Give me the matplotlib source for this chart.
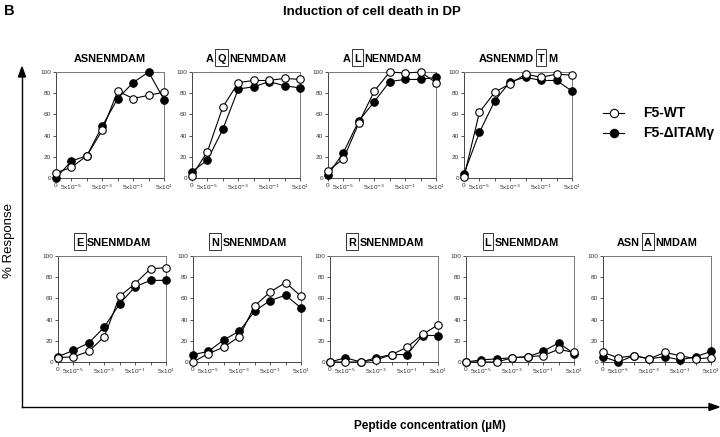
import matplotlib
matplotlib.use("Agg")
import matplotlib.pyplot as plt
from matplotlib.patches import Rectangle
from matplotlib.lines import Line2D

# ---------------- data ----------------
conc_labels = ["0", "5x10$^{-5}$", "", "5x10$^{-3}$", "", "5x10$^{-1}$", "", "5x10$^{1}$"]
conc_index = [0, 1, 2, 3, 4, 5, 6, 7]

# (prefix, boxed letter, suffix)
peptides = [
    ("ASNENMDAM", "", ""),
    ("A", "Q", "NENMDAM"),
    ("A", "L", "NENMDAM"),
    ("ASNENMD", "T", "M"),
    ("", "E", "SNENMDAM"),
    ("", "N", "SNENMDAM"),
    ("", "R", "SNENMDAM"),
    ("", "L", "SNENMDAM"),
    ("ASN", "A", "NMDAM"),
]

wt_values = [
    [5, 10, 21, 45, 82, 75, 78, 81],
    [2, 25, 67, 90, 92, 92, 94, 93],
    [7, 18, 52, 82, 100, 99, 100, 90],
    [1, 62, 81, 89, 98, 95, 98, 97],
    [4, 5, 10, 24, 62, 74, 88, 89],
    [0, 8, 14, 24, 53, 66, 75, 62],
    [0, 0, 0, 2, 7, 14, 26, 35],
    [0, 0, 0, 4, 5, 6, 12, 9],
    [9, 4, 6, 3, 9, 6, 3, 4],
]
ditam_values = [
    [0, 16, 21, 49, 75, 90, 100, 74],
    [6, 17, 46, 84, 86, 91, 87, 85],
    [3, 24, 54, 72, 91, 93, 93, 95],
    [4, 43, 73, 91, 95, 92, 92, 82],
    [5, 11, 18, 33, 55, 71, 77, 77],
    [7, 10, 21, 29, 48, 58, 63, 51],
    [0, 4, 0, 4, 7, 7, 25, 25],
    [0, 2, 3, 4, 5, 10, 18, 8],
    [5, 0, 6, 3, 5, 2, 5, 10],
]
series_names = ["F5-WT", "F5-\u0394ITAM\u03b3"]
yticks = [0, 20, 40, 60, 80, 100]

# ---------------- layout ----------------
W, H = 720, 437
fig = plt.figure(figsize=(W / 100, H / 100), dpi=100)
fig.patch.set_facecolor("white")

SANS = ["Liberation Sans", "DejaVu Sans"]

# pixel boxes (left, top)
boxes = [
    (56, 72), (192, 72), (328, 72), (464, 72),
    (58, 256), (193, 256), (330, 256), (466, 256), (603, 256),
]
AW, AH = 108, 106

axes = []
for (lx, ty) in boxes:
    ax = fig.add_axes([lx / W, (H - ty - AH) / H, AW / W, AH / H])
    axes.append(ax)

renderer = fig.canvas.get_renderer()


def text_width(s, **kw):
    t = fig.text(0, 0, s, **kw)
    w = t.get_window_extent(renderer).width
    t.remove()
    return w


def boxed_title(ax, pre, mid, post, ypix):
    props = dict(fontsize=7.8, fontweight="bold", family=SANS)
    gap = 3.5
    wp = text_width(pre, **props) if pre else 0
    wm = text_width(mid, **props) if mid else 0
    ws = text_width(post, **props) if post else 0
    total = wp + ws + (wm + 2 * gap if mid else 0)
    pos = ax.get_position()
    cx = (pos.x0 + pos.x1) / 2 * W
    x = cx - total / 2
    yb = (H - ypix) / H
    if pre:
        fig.text(x / W, yb, pre, ha="left", va="baseline", **props)
        x += wp
    if mid:
        x += gap
        fig.text(x / W, yb, mid, ha="left", va="baseline", **props)
        fig.patches.append(Rectangle(((x - 2) / W, (H - ypix - 4) / H), (wm + 4) / W, 17 / H,
                                     transform=fig.transFigure, fill=False, lw=0.7,
                                     ec="#333333", figure=fig))
        x += wm + gap
    if post:
        fig.text(x / W, yb, post, ha="left", va="baseline", **props)


for i, ax in enumerate(axes):
    ax.plot(conc_index, wt_values[i], "-o", color="black", lw=0.8, ms=5.4,
            mfc="white", mec="black", mew=0.8, clip_on=False, zorder=4)
    ax.plot(conc_index, ditam_values[i], "-o", color="black", lw=0.8, ms=5.4,
            mfc="black", mec="black", mew=0.8, clip_on=False, zorder=3)
    ax.set_xlim(0, 7)
    ax.set_ylim(0, 100)
    ax.set_xticks(conc_index)
    ax.set_xticklabels(conc_labels, fontsize=4.6, family=SANS, color="#333333")
    ax.set_yticks(yticks)
    ax.set_yticklabels([str(v) for v in yticks], fontsize=4.6, family=SANS, color="#333333")
    ax.tick_params(length=2.2, width=0.6, pad=1.2, color="#333333")
    for s in ax.spines.values():
        s.set_linewidth(0.7)
        s.set_color("#444444")
    ax.spines["top"].set_color("#777777")
    ax.spines["right"].set_color("#777777")
    pre, mid, post = peptides[i]
    ty = boxes[i][1]
    boxed_title(ax, pre, mid, post, ty - 10)

# legend
for j, (name, fc) in enumerate(zip(series_names, ["white", "black"])):
    yp = (H - (113 + 20 * j)) / H
    fig.add_artist(Line2D([603 / W, 624 / W], [yp, yp], color="black", lw=0.8,
                          transform=fig.transFigure))
    fig.add_artist(Line2D([613.5 / W], [yp], color="black", lw=0, marker="o", ms=6,
                          mfc=fc, mec="black", mew=0.8, transform=fig.transFigure))
    fig.text(643 / W, yp, name, ha="left", va="center", fontsize=10,
             fontweight="bold", family=SANS)

# big axes arrows
fig.add_artist(Line2D([22 / W, 22 / W], [(H - 407) / H, (H - 76) / H], color="black",
                      lw=1.0, transform=fig.transFigure))
fig.add_artist(Line2D([22 / W, 711 / W], [(H - 407) / H, (H - 407) / H], color="black",
                      lw=1.0, transform=fig.transFigure))
fig.patches.append(plt.Polygon([[18.5 / W, (H - 77) / H], [25.5 / W, (H - 77) / H],
                                [22 / W, (H - 67) / H]], closed=True, color="black",
                               transform=fig.transFigure, figure=fig))
fig.patches.append(plt.Polygon([[709 / W, (H - 403.5) / H], [709 / W, (H - 410.5) / H],
                                [719 / W, (H - 407) / H]], closed=True, color="black",
                               transform=fig.transFigure, figure=fig))

fig.text(9 / W, (H - 240) / H, "% Response", rotation=90, ha="center", va="center",
         fontsize=9.5, family=SANS)
fig.text(430 / W, (H - 426) / H, "Peptide concentration (\u00b5M)", ha="center",
         va="center", fontsize=8.5, fontweight="bold", family=SANS)
fig.text(372 / W, (H - 12) / H, "Induction of cell death in DP", ha="center",
         va="center", fontsize=9.5, fontweight="bold", family=SANS)
fig.text(4 / W, (H - 11) / H, "B", ha="left", va="center", fontsize=10.5,
         fontweight="bold", family=SANS)

fig.savefig("out.png", dpi=100)
